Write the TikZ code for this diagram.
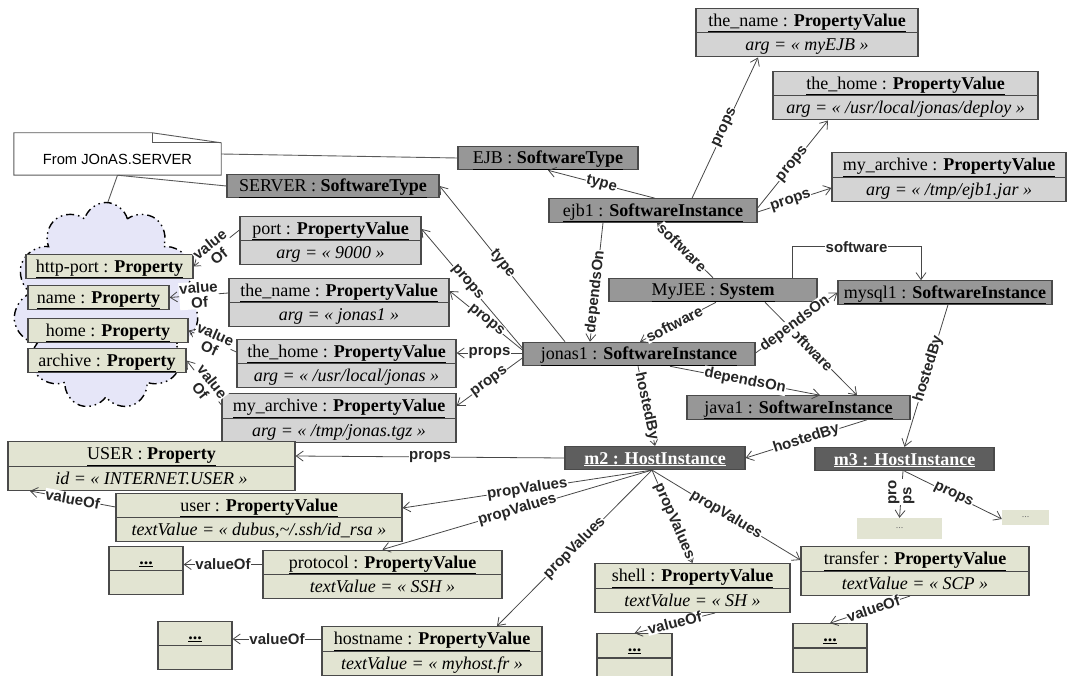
\documentclass[tikz,border=0pt]{standalone}
\usepackage{fontspec}
\setmainfont{Liberation Serif}
\newfontfamily\lblfont{Liberation Sans}
\usetikzlibrary{positioning,shapes.multipart,shapes.symbols,arrows.meta}
\definecolor{boxline}{HTML}{4A4A4A}
\definecolor{typefill}{HTML}{979797}
\definecolor{hostfill}{HTML}{5E5E5E}
\definecolor{valfill}{HTML}{D4D4D4}
\definecolor{propfill}{HTML}{E2E4D2}
\definecolor{cloudfill}{HTML}{E6E6F8}
\newcommand\bs{\rule[-5.5pt]{0pt}{23pt}}
\newcommand\hd[2]{\underline{#1 : \textbf{#2}}}

\begin{document}
\begin{tikzpicture}[x=1pt,y=-1pt,
  every node/.style={font=\fontsize{18}{20}\selectfont},
  umlbox/.style={rectangle,draw=boxline,line width=1.2pt,inner xsep=2pt,inner ysep=0pt,minimum height=23pt},
  typebox/.style={umlbox,fill=typefill},
  hostbox/.style={umlbox,fill=hostfill,text=white,font=\fontsize{18}{20}\selectfont\bfseries},
  propbox/.style={umlbox,fill=propfill},
  valbox/.style={umlbox,rectangle split,rectangle split parts=2,fill=valfill},
  pvbox/.style={valbox,fill=propfill},
  dotbox/.style={fill=propfill,inner sep=0pt,text=black!55,font=\fontsize{10}{10}\selectfont},
  lbl/.style={font=\lblfont\bfseries\fontsize{15}{15}\selectfont,fill=white,inner sep=0.6pt,text=black!85},
  rel/.style={draw=black!72,line width=0.8pt,->},
  noteline/.style={draw=black!65,line width=0.9pt},
  >={Straight Barb[length=7pt,width=10pt]}
]
  \useasboundingbox (0,0) rectangle (1067,676);

  % cloud of properties
  \node[cloud,cloud puffs=11,cloud ignores aspect,draw,line width=1.4pt,
    dash pattern=on 8pt off 4pt on 1.5pt off 4pt on 1.5pt off 4pt,
    fill=cloudfill,minimum width=185pt,minimum height=207pt] (cloud) at (106,306) {};

  % note
  \node[inner sep=0pt,minimum width=207pt,minimum height=32pt,
    font=\lblfont\fontsize{14.7}{16}\selectfont] (note) at (117.5,159) {From JOnAS.SERVER};
  \draw[noteline] (note.south west) -- ([yshift=10pt]note.north west)
    -- ([xshift=-69pt,yshift=10pt]note.north east) -- (note.north east)
    -- (note.south east) -- cycle;
  \draw[noteline] ([xshift=-69pt,yshift=10pt]note.north east)
    -- ([xshift=-69pt]note.north east) -- (note.north east);

  % software types and instances
  \node[typebox,minimum width=180pt] (ejb) at (548,158) {\hd{EJB}{SoftwareType}\bs};
  \node[typebox,minimum width=212pt] (server) at (333,186) {\hd{SERVER}{SoftwareType}\bs};
  \node[typebox,minimum width=208pt] (ejb1) at (653,210.5) {\hd{ejb1}{SoftwareInstance}\bs};
  \node[typebox,minimum width=208pt] (myjee) at (713,290) {\hd{MyJEE}{System}\bs};
  \node[typebox,minimum width=214pt] (mysql1) at (945,292.5) {\hd{mysql1}{SoftwareInstance}\bs};
  \node[typebox,minimum width=232pt] (jonas1) at (639,354) {\hd{jonas1}{SoftwareInstance}\bs};
  \node[typebox,minimum width=223pt] (java1) at (798.5,407.5) {\hd{java1}{SoftwareInstance}\bs};
  \node[hostbox,minimum width=180pt] (m2) at (655,458) {\underline{m2 : HostInstance}\bs};
  \node[hostbox,minimum width=179pt] (m3) at (904.5,459) {\underline{m3 : HostInstance}\bs};

  % property values
  \node[valbox,minimum width=222pt] (ejbname) at (807,32.5)
    {\hd{the\_name}{PropertyValue}\bs\nodepart{two}\textit{arg = « myEJB »}\bs};
  \node[valbox,minimum width=265pt] (ejbhome) at (905.5,95.5)
    {\hd{the\_home}{PropertyValue}\bs\nodepart{two}\textit{arg = « /usr/local/jonas/deploy »}\bs};
  \node[valbox,minimum width=234pt] (ejbarch) at (949,177)
    {\hd{my\_archive}{PropertyValue}\bs\nodepart{two}\textit{arg = « /tmp/ejb1.jar »}\bs};
  \node[valbox,minimum width=181pt] (port) at (330.5,240.5)
    {\hd{port}{PropertyValue}\bs\nodepart{two}\textit{arg = « 9000 »}\bs};
  \node[valbox,minimum width=220pt] (jname) at (339,302.5)
    {\hd{the\_name}{PropertyValue}\bs\nodepart{two}\textit{arg = « jonas1 »}\bs};
  \node[valbox,minimum width=219pt] (jhome) at (346.5,363.5)
    {\hd{the\_home}{PropertyValue}\bs\nodepart{two}\textit{arg = « /usr/local/jonas »}\bs};
  \node[valbox,minimum width=234pt] (jarch) at (339,418)
    {\hd{my\_archive}{PropertyValue}\bs\nodepart{two}\textit{arg = « /tmp/jonas.tgz »}\bs};

  % properties in the cloud
  \node[propbox,minimum width=167pt] (pport) at (109.5,266.5) {\hd{http-port}{Property}\bs};
  \node[propbox,minimum width=141pt] (pname) at (98.5,297.5) {\hd{name}{Property}\bs};
  \node[propbox,minimum width=160pt] (phome) at (108,330.5) {\hd{home}{Property}\bs};
  \node[propbox,minimum width=158pt] (parch) at (107,360.5) {\hd{archive}{Property}\bs};

  % host properties
  \node[pvbox,minimum width=287pt] (userprop) at (151.5,466)
    {\hd{USER}{Property}\bs\nodepart{two}\textit{id = « INTERNET.USER »}\bs};
  \node[pvbox,minimum width=286pt] (userval) at (259,517.5)
    {\hd{user}{PropertyValue}\bs\nodepart{two}\textit{textValue = « dubus,\textasciitilde/.ssh/id\_rsa »}\bs};
  \node[pvbox,minimum width=74pt] (dotsa) at (146,570.5) {\underline{\textbf{...}}\bs\nodepart{two}\bs};
  \node[pvbox,minimum width=239pt] (protocol) at (382.5,574.5)
    {\hd{protocol}{PropertyValue}\bs\nodepart{two}\textit{textValue = « SSH »}\bs};
  \node[pvbox,minimum width=74pt] (dotsb) at (195,645.5) {\underline{\textbf{...}}\bs\nodepart{two}\bs};
  \node[pvbox,minimum width=220pt] (hostname) at (432,651)
    {\hd{hostname}{PropertyValue}\bs\nodepart{two}\textit{textValue = « myhost.fr »}\bs};
  \node[pvbox,minimum width=195pt] (shell) at (692.5,588)
    {\hd{shell}{PropertyValue}\bs\nodepart{two}\textit{textValue = « SH »}\bs};
  \node[pvbox,minimum width=75pt] (dotsc) at (634.5,658) {\underline{\textbf{...}}\bs\nodepart{two}\bs};
  \node[pvbox,minimum width=228pt] (transfer) at (915,571)
    {\hd{transfer}{PropertyValue}\bs\nodepart{two}\textit{textValue = « SCP »}\bs};
  \node[pvbox,minimum width=74pt] (dotsd) at (830,648) {\underline{\textbf{...}}\bs\nodepart{two}\bs};
  \node[dotbox,minimum width=85pt,minimum height=21pt] (dotse) at (899.5,528.5) {...};
  \node[dotbox,minimum width=47pt,minimum height=15pt] (dotsf) at (1025.5,517.5) {...};

  % note links
  \draw[noteline] ([yshift=5pt]note.east) -- (ejb.west);
  \draw[noteline] (note.south) -- (server.west);
  \draw[noteline] (note.south) -- ([xshift=2pt]cloud.north);

  % ejb1
  \draw[rel] ([xshift=2pt]ejb1.north) -- (ejb.south) node[lbl,sloped,pos=.5] {type};
  \draw[rel] ([xshift=39pt]ejb1.north) -- ([xshift=-49pt]ejbname.south) node[lbl,sloped,pos=.5] {props};
  \draw[rel] ([yshift=2.5pt]ejb1.east) -- ([xshift=-77.5pt]ejbhome.south) node[lbl,sloped,pos=.5] {props};
  \draw[rel] ([yshift=-1.5pt]ejb1.east) -- ([yshift=-11pt]ejbarch.west) node[lbl,sloped,pos=.45] {props};
  \draw[rel] ([xshift=-50pt]ejb1.south) -- ([xshift=-49pt]jonas1.north) node[lbl,sloped,pos=.58] {dependsOn};

  % MyJEE
  \draw[rel] (myjee.north) -- ([xshift=4pt]ejb1.south) node[lbl,sloped,pos=.55] {software};
  \draw[rel] ([xshift=3pt]myjee.south) -- ([xshift=1pt]jonas1.north) node[lbl,sloped,pos=.55] {software};
  \draw[rel] ([xshift=79pt]myjee.north) -- ++(0,-31) -| ([xshift=-24pt]mysql1.north) node[lbl,pos=.25] {software};
  \draw[rel] ([xshift=52pt]myjee.south) -- ([xshift=58.5pt]java1.north) node[lbl,sloped,pos=.48] {software};

  % jonas1
  \draw[rel] ([xshift=-74pt]jonas1.north) -- (server.east) node[lbl,sloped,pos=.5] {type};
  \draw[rel] ([yshift=1pt]jonas1.east) -- (mysql1.west) node[lbl,sloped,pos=.48] {dependsOn};
  \draw[rel] ([xshift=31pt]jonas1.south) -- ([xshift=21.5pt]java1.north) node[lbl,sloped,pos=.5] {dependsOn};
  \draw[rel] ([xshift=-1pt]jonas1.south) -- (m2.north) node[lbl,sloped,pos=.5] {hostedBy};
  \draw[rel] ([yshift=6pt]jonas1.west) -- ([yshift=11.5pt]port.east) node[lbl,sloped,pos=.55] {props};
  \draw[rel] ([yshift=4pt]jonas1.west) -- ([yshift=11.5pt]jname.east) node[lbl,sloped,pos=.5] {props};
  \draw[rel] ([yshift=1pt]jonas1.west) -- ([yshift=1pt]jonas1.west -| jhome.east) node[lbl,pos=.5] {props};
  \draw[rel] ([yshift=-4pt]jonas1.west) -- ([yshift=12pt]jarch.east) node[lbl,sloped,pos=.5] {props};

  % hosts
  \draw[rel] ([xshift=68.5pt]java1.south) -- (m2.east) node[lbl,sloped,pos=.5] {hostedBy};
  \draw[rel] ([xshift=3pt]mysql1.south) -- (m3.north) node[lbl,sloped,pos=.45] {hostedBy};
  \draw[rel] (m2.west) -- ([yshift=10pt]userprop.east) node[lbl,pos=.5] {props};
  \draw[rel] ([xshift=-3pt]m2.south) -- ([yshift=9.5pt]userval.east) node[lbl,sloped,pos=.5] {propValues};
  \draw[rel] ([xshift=-3pt]m2.south) -- (protocol.north) node[lbl,sloped,pos=.5] {propValues};
  \draw[rel] ([xshift=-3pt]m2.south) -- ([xshift=65pt]hostname.north) node[lbl,sloped,pos=.5] {propValues};
  \draw[rel] ([xshift=-3pt]m2.south) -- (shell.north) node[lbl,sloped,pos=.55] {propValues};
  \draw[rel] ([xshift=-3pt]m2.south) -- ([yshift=11pt]transfer.west) node[lbl,sloped,pos=.5] {propValues};
  \draw[rel] ([xshift=-1.5pt]m3.south) -- (dotse.north) node[lbl,rotate=90,align=left,pos=.45] {pro\\ps};
  \draw[rel] (m3.south) -- ([yshift=-1.5pt]dotsf.west) node[lbl,sloped,pos=.5] {props};

  % valueOf
  \draw[rel] ([yshift=10.5pt]userval.west) -- ([xshift=-121.5pt]userprop.south) node[lbl,sloped,pos=.5] {valueOf};
  \draw[rel] ([yshift=10pt]protocol.west) -- ([yshift=10pt]protocol.west -| dotsa.east) node[lbl,pos=.5] {valueOf};
  \draw[rel] ([yshift=12pt]hostname.west) -- ([yshift=12pt]hostname.west -| dotsb.east) node[lbl,pos=.5] {valueOf};
  \draw[rel] ([xshift=22.5pt]shell.south) -- (dotsc.north) node[lbl,sloped,pos=.5] {valueOf};
  \draw[rel] ([xshift=-5pt]transfer.south) -- (dotsd.north) node[lbl,sloped,pos=.46] {valueOf};
  \draw[rel] ([yshift=10.5pt]port.west) -- (pport.east) node[lbl,sloped,align=center,pos=.55] {value\\Of};
  \draw[rel] ([yshift=9.5pt]jname.west) -- (pname.east) node[lbl,sloped,align=center,pos=.5] {value\\Of};
  \draw[rel] ([yshift=11.5pt]jhome.west) -- (phome.east) node[lbl,sloped,align=center,pos=.5] {value\\Of};
  \draw[rel] ([yshift=13pt]jarch.west) -- (parch.east) node[lbl,sloped,align=center,pos=.43] {value\\Of};
\end{tikzpicture}
\end{document}
